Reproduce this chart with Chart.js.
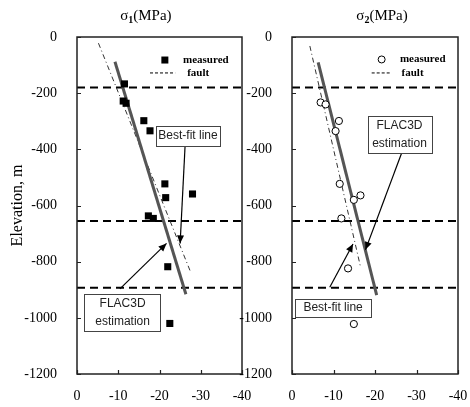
<!DOCTYPE html>
<html>
<head>
<meta charset="utf-8">
<script src="https://cdn.jsdelivr.net/npm/chart.js@4.4.0/dist/chart.umd.min.js"></script>
<style>
  body { margin: 0; background: #fff; }
  #wrap { position: relative; width: 470px; height: 407px; }
  canvas { position: absolute; top: 0; }
</style>
</head>
<body>
<div id="wrap">
  <canvas id="c1" width="260" height="407" style="left:0"></canvas>
  <canvas id="c2" width="235" height="407" style="left:235px"></canvas>
</div>
<script>
// axis ticks
const yTicks = [0, -200, -400, -600, -800, -1000, -1200];
const xTicks = [0, -10, -20, -30, -40];
const faultDepths = [-180, -655, -893];

// sigma 1 measured (MPa, elevation m)
const s1X = [-11.5, -11.2, -11.9, -16.2, -17.7, -21.3, -21.5, -28.0, -17.3, -18.5, -22.0, -22.5];
const s1Y = [-167, -228, -236, -298, -334, -523, -572, -559, -637, -646, -818, -1020];
const s1FitX = [-5.2, -27.6];
const s1FitY = [-22, -839];
const s1FlacX = [-9.2, -26.4];
const s1FlacY = [-88, -916];

// sigma 2 measured
const s2X = [-6.9, -8.1, -11.3, -10.5, -11.5, -14.9, -16.5, -11.9, -13.5, -14.9];
const s2Y = [-233, -240, -299, -335, -523, -580, -564, -646, -824, -1022];
const s2FitX = [-4.3, -16.5];
const s2FitY = [-32, -818];
const s2FlacX = [-6.3, -20.4];
const s2FlacY = [-90, -919];

const serif = '"Liberation Serif", "Times New Roman", serif';
const sans = '"Liberation Sans", Arial, sans-serif';

function toXY(xs, ys) { return xs.map((x, i) => ({ x: x, y: ys[i] })); }

function drawArrow(ctx, x1, y1, x2, y2) {
  ctx.strokeStyle = '#000';
  ctx.fillStyle = '#000';
  ctx.lineWidth = 1.2;
  ctx.beginPath();
  ctx.moveTo(x1, y1);
  ctx.lineTo(x2, y2);
  ctx.stroke();
  const a = Math.atan2(y2 - y1, x2 - x1);
  const len = 8, w = 3.5;
  ctx.beginPath();
  ctx.moveTo(x2, y2);
  ctx.lineTo(x2 - len * Math.cos(a) + w * Math.sin(a), y2 - len * Math.sin(a) - w * Math.cos(a));
  ctx.lineTo(x2 - len * Math.cos(a) - w * Math.sin(a), y2 - len * Math.sin(a) + w * Math.cos(a));
  ctx.closePath();
  ctx.fill();
}

// frame, inner ticks, title, legend, callouts
const decor = {
  id: 'decor',
  afterDatasetsDraw(chart, args, opts) {
    const ctx = chart.ctx;
    const a = chart.chartArea;
    const sx = chart.scales.x, sy = chart.scales.y;
    ctx.save();

    // callouts
    opts.notes.forEach(n => {
      const ax = sx.getPixelForValue(n.from[0]), ay = sy.getPixelForValue(n.from[1]);
      const bx = sx.getPixelForValue(n.to[0]), by = sy.getPixelForValue(n.to[1]);
      drawArrow(ctx, ax, ay, bx, by);
      const x1 = sx.getPixelForValue(n.box[0]), x2 = sx.getPixelForValue(n.box[2]);
      const y1 = sy.getPixelForValue(n.box[1]), y2 = sy.getPixelForValue(n.box[3]);
      ctx.fillStyle = '#fff';
      ctx.fillRect(x1, y1, x2 - x1, y2 - y1);
      ctx.strokeStyle = '#444';
      ctx.lineWidth = 1;
      ctx.strokeRect(Math.round(x1) + 0.5, Math.round(y1) + 0.5, Math.round(x2 - x1), Math.round(y2 - y1));
      ctx.fillStyle = '#222';
      ctx.font = '12px ' + sans;
      ctx.textAlign = 'center';
      ctx.textBaseline = 'middle';
      const cx = (x1 + x2) / 2, cy = (y1 + y2) / 2;
      const lh = 18;
      n.text.forEach((t, i) => {
        ctx.fillText(t, cx, cy + (i - (n.text.length - 1) / 2) * lh);
      });
    });

    // frame
    ctx.strokeStyle = '#222';
    ctx.lineWidth = 1.5;
    ctx.strokeRect(a.left, a.top, a.right - a.left, a.bottom - a.top);

    // inner ticks
    ctx.lineWidth = 1.2;
    ctx.beginPath();
    yTicks.forEach(v => {
      const y = Math.round(sy.getPixelForValue(v)) + 0.5;
      ctx.moveTo(a.left, y); ctx.lineTo(a.left + 4, y);
    });
    xTicks.forEach(v => {
      const x = Math.round(sx.getPixelForValue(v)) + 0.5;
      ctx.moveTo(x, a.bottom); ctx.lineTo(x, a.bottom - 4);
    });
    ctx.stroke();

    // title with subscript
    ctx.fillStyle = '#000';
    ctx.textBaseline = 'alphabetic';
    ctx.textAlign = 'left';
    const big = '15px ' + serif, small = '10px ' + serif;
    ctx.font = big;
    const w1 = ctx.measureText('\u03c3').width;
    const w3 = ctx.measureText('(MPa)').width;
    ctx.font = small;
    const w2 = ctx.measureText(opts.sub).width;
    let tx = sx.getPixelForValue(opts.titleX) - (w1 + w2 + w3) / 2;
    const ty = 20;
    ctx.font = big; ctx.fillText('\u03c3', tx, ty); tx += w1;
    ctx.font = 'bold ' + small; ctx.fillText(opts.sub, tx, ty + 3); tx += w2;
    ctx.font = big; ctx.fillText('(MPa)', tx, ty);

    // legend
    const L = opts.legend;
    const mx = sx.getPixelForValue(L.markX), my = sy.getPixelForValue(L.row1);
    if (opts.square) {
      ctx.fillStyle = '#000';
      ctx.fillRect(mx - 3.5, my - 3.5, 7, 7);
    } else {
      ctx.fillStyle = '#fff';
      ctx.strokeStyle = '#000';
      ctx.lineWidth = 1;
      ctx.beginPath(); ctx.arc(mx, my, 3.5, 0, Math.PI * 2); ctx.fill(); ctx.stroke();
    }
    const ry = sy.getPixelForValue(L.row2);
    ctx.strokeStyle = '#000';
    ctx.lineWidth = 1;
    ctx.setLineDash([3, 2]);
    ctx.beginPath();
    ctx.moveTo(sx.getPixelForValue(L.dash[0]), ry);
    ctx.lineTo(sx.getPixelForValue(L.dash[1]), ry);
    ctx.stroke();
    ctx.setLineDash([]);
    ctx.fillStyle = '#000';
    ctx.font = 'bold 11px ' + serif;
    ctx.textBaseline = 'middle';
    ctx.fillText('measured', sx.getPixelForValue(L.textX), my);
    ctx.fillText('fault', sx.getPixelForValue(L.textX2), ry);

    ctx.restore();
  }
};

function makeChart(id, p) {
  const faults = faultDepths.map(d => ({
    data: [{ x: xTicks[0], y: d }, { x: xTicks[xTicks.length - 1], y: d }],
    showLine: true, pointRadius: 0, borderColor: '#000', borderWidth: 2,
    borderDash: [8, 5], order: 3
  }));
  const datasets = [
    {
      data: toXY(p.xs, p.ys),
      pointStyle: p.square ? 'rect' : 'circle',
      pointRadius: p.square ? 5 : 3.6,
      backgroundColor: p.square ? '#000' : '#fff',
      borderColor: '#000', borderWidth: p.square ? 0 : 1, order: 0
    },
    {
      data: toXY(p.flacX, p.flacY), showLine: true, pointRadius: 0,
      borderColor: '#555', borderWidth: 3, order: 1
    },
    {
      data: toXY(p.fitX, p.fitY), showLine: true, pointRadius: 0,
      borderColor: '#333', borderWidth: 1, borderDash: [5, 3, 1, 3], order: 2
    }
  ].concat(faults);

  return new Chart(document.getElementById(id), {
    type: 'scatter',
    data: { datasets: datasets },
    options: {
      responsive: false,
      animation: false,
      layout: { padding: { top: 37, right: p.padRight, bottom: 0, left: 0 } },
      plugins: {
        legend: { display: false },
        tooltip: { enabled: false },
        decor: p.decor
      },
      scales: {
        x: {
          type: 'linear', min: -40, max: 0, reverse: true,
          grid: { display: false }, border: { display: false },
          ticks: { stepSize: 10, padding: 6, color: '#000', font: { family: serif, size: 14 },
                   callback: v => String(v) },
          afterFit: s => { s.height = 33; s.paddingLeft = 0; s.paddingRight = 0; }
        },
        y: {
          type: 'linear', min: -1200, max: 0,
          grid: { display: false }, border: { display: false },
          title: {
            display: p.yTitle, text: 'Elevation, m', color: '#000',
            font: { family: serif, size: 16 }, padding: { top: 8, bottom: 4 }
          },
          ticks: { stepSize: 200, padding: 12, color: '#000', font: { family: serif, size: 14 },
                   callback: v => String(v) },
          afterFit: s => { s.width = p.yWidth; s.paddingTop = 0; s.paddingBottom = 0; }
        }
      }
    },
    plugins: [decor]
  });
}

makeChart('c1', {
  xs: s1X, ys: s1Y, fitX: s1FitX, fitY: s1FitY, flacX: s1FlacX, flacY: s1FlacY,
  square: true, yTitle: true, yWidth: 77, padRight: 18,
  decor: {
    sub: '1', titleX: -16.7, square: true,
    legend: { markX: -21.3, row1: -82, row2: -128, dash: [-17.7, -23.8], textX: -25.7, textX2: -26.7 },
    notes: [
      { text: ['Best-fit line'], box: [-19.1, -316, -34.7, -387], from: [-26.2, -388], to: [-25.0, -735] },
      { text: ['FLAC3D', 'estimation'], box: [-1.8, -916, -20.3, -1047], from: [-10.4, -897], to: [-21.7, -735] }
    ]
  }
});

makeChart('c2', {
  xs: s2X, ys: s2Y, fitX: s2FitX, fitY: s2FitY, flacX: s2FlacX, flacY: s2FlacY,
  square: false, yTitle: false, yWidth: 57, padRight: 12,
  decor: {
    sub: '2', titleX: -21.7, square: false,
    legend: { markX: -21.6, row1: -80, row2: -128, dash: [-19.2, -23.6], textX: -26.0, textX2: -26.4 },
    notes: [
      { text: ['FLAC3D', 'estimation'], box: [-18.2, -281, -33.6, -414], from: [-26.4, -414], to: [-17.7, -758] },
      { text: ['Best-fit line'], box: [-0.8, -932, -19.0, -996], from: [-9.1, -891], to: [-14.7, -737] }
    ]
  }
});
</script>
</body>
</html>
